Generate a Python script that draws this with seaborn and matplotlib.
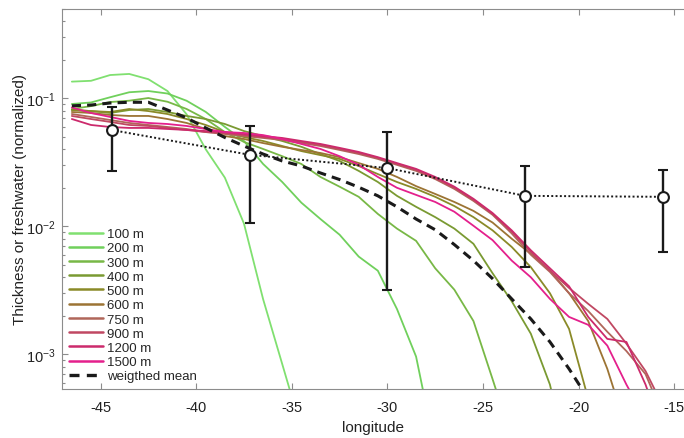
import numpy as np
import pandas as pd
import seaborn as sns
import matplotlib.pyplot as plt
from matplotlib.lines import Line2D
from matplotlib.ticker import LogLocator, NullFormatter

# bin centres (deg longitude)
lon = [-46.5, -45.5, -44.5, -43.5, -42.5, -41.5, -40.5, -39.5, -38.5, -37.5,
       -36.5, -35.5, -34.5, -33.5, -32.5, -31.5, -30.5, -29.5, -28.5, -27.5,
       -26.5, -25.5, -24.5, -23.5, -22.5, -21.5, -20.5, -19.5, -18.5, -17.5,
       -16.5, -15.5]

depths = ['100 m', '200 m', '300 m', '400 m', '500 m', '600 m', '750 m', '900 m', '1200 m', '1500 m']
colors = ['#80e070', '#70d05c', '#78b846', '#7a9a32', '#8a8a28', '#9c7434',
          '#b0665a', '#c04862', '#cc2a6c', '#e4208c']

thk_100 = [0.135, 0.137, 0.152, 0.155, 0.141, 0.114, 0.075, 0.040, 0.024, 0.0105,
           0.0027, 0.00084, 0.00026]
thk_200 = [0.0903, 0.0928, 0.1019, 0.1115, 0.114, 0.109, 0.0957, 0.0783, 0.0598, 0.0464,
           0.0307, 0.0222, 0.0153, 0.0114, 0.0086, 0.0058, 0.0045, 0.00226, 0.00096, 0.00018]
thk_300 = [0.0825, 0.0869, 0.0935, 0.0958, 0.1005, 0.094, 0.0825, 0.0689, 0.0545, 0.0456,
           0.0402, 0.0353, 0.0307, 0.0243, 0.0204, 0.017, 0.0125, 0.0096, 0.0077, 0.0047,
           0.0032, 0.00182, 0.00064, 0.00022]
thk_400 = [0.081, 0.0795, 0.0768, 0.081, 0.0825, 0.0782, 0.0728, 0.0689, 0.063, 0.0555,
           0.0507, 0.0464, 0.0418, 0.0367, 0.0324, 0.0271, 0.0222, 0.0173, 0.0142, 0.0118,
           0.0096, 0.0073, 0.0043, 0.0026, 0.00145, 0.00058, 0.00013]
thk_500 = [0.0813, 0.0795, 0.0782, 0.0825, 0.0795, 0.0754, 0.0689, 0.0619, 0.0545, 0.0498,
           0.0464, 0.0424, 0.0387, 0.036, 0.0336, 0.0296, 0.0256, 0.0222, 0.0196, 0.017,
           0.0144, 0.0118, 0.0093, 0.0069, 0.0048, 0.003, 0.00158, 0.00045]
thk_600 = [0.0782, 0.0768, 0.0741, 0.0728, 0.0728, 0.0689, 0.0642, 0.0576, 0.0507, 0.0481,
           0.0447, 0.0418, 0.0395, 0.0374, 0.0347, 0.0312, 0.0281, 0.0243, 0.0206, 0.0179,
           0.0155, 0.0132, 0.0107, 0.008, 0.0061, 0.0045, 0.003, 0.00182, 0.00077, 0.00026]
thk_750 = [0.0754, 0.0715, 0.0677, 0.0642, 0.0619, 0.0597, 0.0576, 0.0545, 0.0526, 0.0507,
           0.049, 0.0472, 0.0447, 0.0424, 0.0395, 0.0367, 0.0336, 0.0302, 0.0271, 0.0234,
           0.0196, 0.0158, 0.0123, 0.0088, 0.006, 0.0044, 0.003, 0.00218, 0.0015, 0.00106,
           0.0007, 0.00031]
thk_900 = [0.0728, 0.0689, 0.0654, 0.0619, 0.0608, 0.0587, 0.0566, 0.0545, 0.0536, 0.0516,
           0.0498, 0.0481, 0.0456, 0.0432, 0.0402, 0.0374, 0.0342, 0.0307, 0.0276, 0.0238,
           0.02, 0.0161, 0.0125, 0.0091, 0.0063, 0.0045, 0.0033, 0.00248, 0.00189, 0.00121,
           0.00074, 0.00037]
thk_1200 = [0.0689, 0.0619, 0.0597, 0.0587, 0.0587, 0.0576, 0.0566, 0.0555, 0.0545, 0.0526,
            0.0507, 0.049, 0.0464, 0.044, 0.041, 0.0381, 0.0347, 0.0312, 0.0281, 0.0243,
            0.0204, 0.0164, 0.0127, 0.0093, 0.0065, 0.0047, 0.0034, 0.00196, 0.00132, 0.00125,
            0.00058, 0.00022]
thk_1500 = [0.0848, 0.0768, 0.0715, 0.0666, 0.0642, 0.063, 0.0608, 0.0576, 0.0545, 0.0536,
            0.0516, 0.0481, 0.044, 0.0402, 0.0353, 0.0302, 0.0243, 0.02, 0.0176, 0.0155,
            0.013, 0.0101, 0.0078, 0.0054, 0.004, 0.00271, 0.00196, 0.0017, 0.00117, 0.00058,
            0.00031]
wmean = [0.0874, 0.0886, 0.0919, 0.0931, 0.0931, 0.081, 0.0703, 0.0587, 0.0494, 0.0424,
         0.0367, 0.0324, 0.0296, 0.0261, 0.0232, 0.0202, 0.0173, 0.0142, 0.0114, 0.0094,
         0.0072, 0.0054, 0.0039, 0.00271, 0.00189, 0.00125, 0.00077, 0.00045]

# freshwater points with error bars
fw_lon = [-44.4, -37.2, -30.0, -22.8, -15.6]
fw_mean = [0.0565, 0.0362, 0.0285, 0.0173, 0.0170]
fw_hi = [0.0851, 0.0611, 0.0542, 0.0297, 0.0275]
fw_lo = [0.0270, 0.0107, 0.0032, 0.0048, 0.0063]

series = [thk_100, thk_200, thk_300, thk_400, thk_500, thk_600, thk_750, thk_900, thk_1200, thk_1500]
rows = []
for d, vals in zip(depths, series):
    for x, v in zip(lon, vals):
        rows.append((d, x, v))
df = pd.DataFrame(rows, columns=['depth', 'lon', 'val'])

sns.set_theme(style='ticks')
plt.rcParams['font.family'] = ['Liberation Sans', 'DejaVu Sans']
plt.rcParams['axes.unicode_minus'] = False

fig = plt.figure(figsize=(6.84, 4.39), dpi=100)
ax = fig.add_axes([62.3 / 684, 49 / 439, 621.7 / 684, 380.5 / 439])

sns.lineplot(data=df, x='lon', y='val', hue='depth', hue_order=depths, palette=colors,
             estimator=None, sort=False, linewidth=1.3, legend=False, ax=ax)
ax.plot(lon[:len(wmean)], wmean, color='k', lw=2.2, dashes=(3, 2))

fw_mean_a = np.array(fw_mean)
yerr = [fw_mean_a - np.array(fw_lo), np.array(fw_hi) - fw_mean_a]
ax.plot(fw_lon, fw_mean, color='k', lw=1.4, ls=(0, (1, 1.2)))
ax.errorbar(fw_lon, fw_mean, yerr=yerr, fmt='o', mfc='white', mec='k', ms=7.8, mew=1.5,
            ecolor='k', elinewidth=1.7, capsize=3.5, capthick=1.7, zorder=5)

ax.set_yscale('log')
ax.set_xlim(-47, -14.49)
ax.set_ylim(5.36e-4, 0.503)
ax.set_xticks([-45, -40, -35, -30, -25, -20, -15])
ax.set_xticklabels(['-45', '-40', '-35', '-30', '-25', '-20', '-15'])
ax.yaxis.set_minor_locator(LogLocator(base=10, subs=np.arange(2, 10)))
ax.yaxis.set_minor_formatter(NullFormatter())

for s in ['left', 'bottom', 'top']:
    ax.spines[s].set_color('#8c8c8c')
    ax.spines[s].set_linewidth(0.8)
ax.spines['right'].set_visible(False)
ax.tick_params(axis='both', which='both', direction='in', color='#8c8c8c',
               labelsize=10.5, labelcolor='#222222', width=0.8)
ax.tick_params(axis='x', top=True, length=4, pad=8)
ax.tick_params(axis='y', which='major', length=4, pad=5)
ax.tick_params(axis='y', which='minor', length=2.5)

ax.set_xlabel('longitude', fontsize=11, color='#222222', labelpad=4)
ax.set_ylabel('Thickness or freshwater (normalized)', fontsize=11, color='#222222', labelpad=-1)

handles = [Line2D([], [], color=c, lw=1.8) for c in colors]
handles.append(Line2D([], [], color='k', lw=2.4, dashes=(3, 2.2)))
labels = depths + ['weigthed mean']
ax.legend(handles, labels, loc='lower left', bbox_to_anchor=(0.0, 0.0), frameon=False,
          fontsize=9.5, handlelength=2.6, handletextpad=0.3, labelspacing=0.15,
          borderaxespad=0.1, borderpad=0.4)

fig.savefig('out.png', dpi=100)
